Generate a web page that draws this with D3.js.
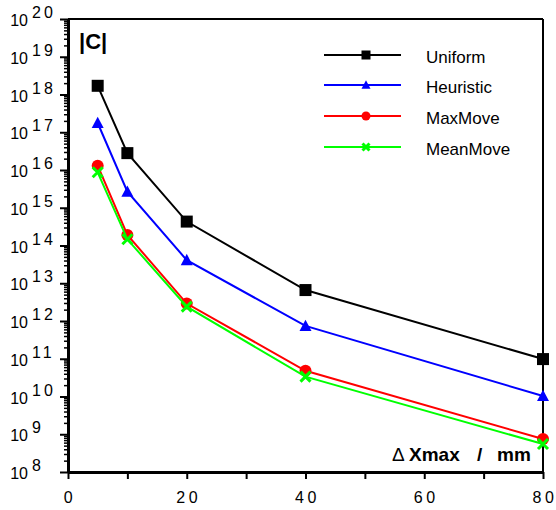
<!DOCTYPE html>
<html>
<head>
<meta charset="utf-8">
<script src="https://cdn.jsdelivr.net/npm/d3@7"></script>
<style>
  body { margin: 0; background: #fff; }
  svg { display: block; font-family: "Liberation Sans", Arial, sans-serif; }
</style>
</head>
<body>
<div id="chart"></div>
<script>
// data
const xValues = [5, 10, 20, 40, 80];
const uniform = [1.7e18, 2.8e16, 4.3e14, 6.6e12, 9.8e10];
const heuristic = [1.76e17, 2.66e15, 4.1e13, 7.4e11, 1.03e10];
const maxMove = [1.3e16, 1.9e14, 2.9e12, 4.8e10, 7.5e8];
const meanMove = [8.7e15, 1.46e14, 2.4e12, 3.35e10, 5.5e8];

const seriesNames = ['Uniform', 'Heuristic', 'MaxMove', 'MeanMove'];
const seriesColors = ['#000000', '#0000ff', '#ff0000', '#00ff00'];
const seriesMarkers = ['square', 'triangle', 'circle', 'cross'];
const xTicks = [0, 20, 40, 60, 80];
const xMinorTicks = [10, 30, 50, 70];
const yExponents = d3.range(8, 21);

const wSvg = 556, hSvg = 510;
const pLeft = 68, pRight = 543, pTop = 19, pBottom = 472;

const svg = d3.select('#chart').append('svg')
    .attr('width', wSvg)
    .attr('height', hSvg);

const x = d3.scaleLinear().domain([0, 80]).range([pLeft, pRight]);
const y = d3.scaleLog().domain([1e8, 1e20]).range([pBottom, pTop]);

// frame: top + right thinner
svg.append('line').attr('x1', pLeft).attr('x2', pRight).attr('y1', pTop).attr('y2', pTop)
    .attr('stroke', '#000').attr('stroke-width', 2);
svg.append('line').attr('x1', pRight).attr('x2', pRight).attr('y1', pTop).attr('y2', pBottom)
    .attr('stroke', '#000').attr('stroke-width', 2);

//#region axes
const yMinor = [];
d3.range(8, 20).forEach(e => d3.range(2, 10).forEach(m => yMinor.push(m * Math.pow(10, e))));

svg.append('g')
    .attr('transform', `translate(${pLeft}, 0)`)
    .call(d3.axisLeft(y).tickValues(yMinor).tickSize(4).tickFormat(''))
    .call(g => g.select('.domain').remove())
    .call(g => g.selectAll('line').attr('stroke-width', 1.5));

svg.append('g')
    .attr('transform', `translate(${pLeft}, 0)`)
    .call(d3.axisLeft(y).tickValues(yExponents.map(e => Math.pow(10, e))).tickSize(8).tickSizeOuter(0).tickFormat(''))
    .call(g => g.select('.domain').attr('stroke-width', 3))
    .call(g => g.selectAll('line').attr('stroke-width', 2));

svg.append('g')
    .attr('transform', `translate(0, ${pBottom})`)
    .call(d3.axisBottom(x).tickValues(xTicks.concat(xMinorTicks)).tickSize(7).tickSizeOuter(0).tickFormat(''))
    .call(g => g.select('.domain').attr('stroke-width', 3))
    .call(g => g.selectAll('line').attr('stroke-width', 2));

// y labels: 10 with exponent
const yLab = svg.append('g');
yLab.selectAll('.base')
    .data(yExponents)
    .enter()
    .append('text')
    .attr('x', 28)
    .attr('y', d => y(Math.pow(10, d)) + 7)
    .attr('text-anchor', 'end')
    .attr('font-size', 16)
    .text('10');
yLab.selectAll('.exp')
    .data(yExponents)
    .enter()
    .append('text')
    .attr('x', 32)
    .attr('y', d => y(Math.pow(10, d)) - 1)
    .attr('font-size', 16)
    .attr('letter-spacing', 3)
    .text(d => d);

svg.append('g').selectAll('text')
    .data(xTicks)
    .enter()
    .append('text')
    .attr('x', d => x(d) + 2)
    .attr('y', 503)
    .attr('text-anchor', 'middle')
    .attr('font-size', 16)
    .attr('letter-spacing', 3.5)
    .text(d => d);
//#endregion

//#region series
function drawMarker(g, type, size, color) {
    const s = size / 2;
    if (type === 'square') {
        g.append('rect').attr('x', -s).attr('y', -s).attr('width', size).attr('height', size).attr('fill', color);
    } else if (type === 'triangle') {
        g.append('path').attr('d', `M0,${-s * 1.05}L${s},${s * 0.85}L${-s},${s * 0.85}Z`).attr('fill', color);
    } else if (type === 'circle') {
        g.append('circle').attr('r', s).attr('fill', color);
    } else {
        g.append('path').attr('d', `M${-s},${-s}L${s},${s}M${s},${-s}L${-s},${s}`)
            .attr('stroke', color).attr('stroke-width', 3).attr('fill', 'none');
    }
}

const allSeries = [uniform, heuristic, maxMove, meanMove];
const lineMaker = d3.line()
    .x((d, i) => x(xValues[i]))
    .y(d => y(d));

allSeries.forEach((values, k) => {
    const g = svg.append('g').classed('series', true);
    g.append('path')
        .attr('d', lineMaker(values))
        .attr('fill', 'none')
        .attr('stroke', seriesColors[k])
        .attr('stroke-width', 2);
    values.forEach((v, i) => {
        const m = g.append('g').attr('transform', `translate(${x(xValues[i])}, ${y(v)})`);
        drawMarker(m, seriesMarkers[k], seriesMarkers[k] === 'cross' ? 10 : 12, seriesColors[k]);
    });
});
//#endregion

//#region legend
const legendY = [55, 85, 116, 147];
seriesNames.forEach((name, k) => {
    const g = svg.append('g').attr('transform', `translate(0, ${legendY[k]})`);
    g.append('line').attr('x1', 324).attr('x2', 401).attr('y1', 0).attr('y2', 0)
        .attr('stroke', seriesColors[k]).attr('stroke-width', 2);
    const m = g.append('g').attr('transform', 'translate(366, 0)');
    drawMarker(m, seriesMarkers[k], seriesMarkers[k] === 'cross' ? 7 : 9, seriesColors[k]);
    g.append('text').attr('x', 426).attr('y', 8).attr('font-size', 17).text(name);
});
//#endregion

// titles
svg.append('text').attr('x', 79).attr('y', 49).attr('font-size', 22).attr('font-weight', 'bold').text('|C|');
svg.append('text').attr('x', 392).attr('y', 461).attr('font-size', 19).text('Δ');
svg.append('text').attr('x', 409).attr('y', 461).attr('font-size', 19).attr('font-weight', 'bold').text('Xmax');
svg.append('text').attr('x', 477).attr('y', 461).attr('font-size', 19).attr('font-weight', 'bold').text('/');
svg.append('text').attr('x', 497).attr('y', 461).attr('font-size', 19).attr('font-weight', 'bold').text('mm');
</script>
</body>
</html>
